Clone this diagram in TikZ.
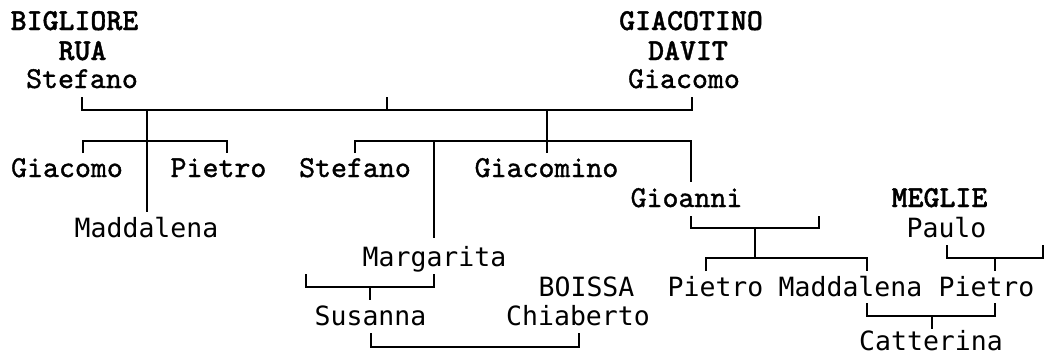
\documentclass[tikz,border=0pt]{standalone}
\usepackage{fontspec}
\newfontfamily\sansmono{DejaVu Sans Mono}
\newfontfamily\sermono{lmmono10-regular.otf}[FakeBold=1.2]
\newfontfamily\serbold{lmmonolt10-bold.otf}[FakeBold=1.2]
\begin{document}
\begin{tikzpicture}[x=1pt,y=-1pt,
  sn/.style={font=\sansmono\fontsize{26.5}{30}\selectfont, anchor=base, inner sep=0pt},
  sr/.style={font=\sermono\fontsize{30.4}{34}\selectfont, anchor=base, inner sep=0pt},
  sb/.style={font=\serbold\fontsize{30.4}{34}\selectfont, anchor=base, inner sep=0pt},
  ln/.style={draw=black, line width=2pt}]
\useasboundingbox (0,0) rectangle (1044,356);
% names
\node[sb] (bigl) at (74.5,30) {BIGLIORE};
\node[sb] (rua) at (82.5,60) {RUA};
\node[sr] (stef0) at (82,88) {Stefano};
\node[sb] (giacot) at (691,30) {GIACOTINO};
\node[sb] (davit) at (688,60) {DAVIT};
\node[sr] (giac0) at (684,88) {Giacomo};
\node[sr] (giac1) at (67,177) {Giacomo};
\node[sr] (piet1) at (218.5,177) {Pietro};
\node[sr] (stef1) at (355,177) {Stefano};
\node[sr] (giacm) at (546.5,177) {Giacomino};
\node[sr] (gioa) at (686.5,207) {Gioanni};
\node[sb] (meglie) at (939.5,207) {MEGLIE};
\node[sn] (madd1) at (146.5,237) {Maddalena};
\node[sn] (paulo) at (946.5,237) {Paulo};
\node[sn] (marg) at (434.5,266) {Margarita};
\node[sn] (boissa) at (586.5,296) {BOISSA};
\node[sn] (piet2) at (715.5,296) {Pietro};
\node[sn] (madd2) at (850.5,296) {Maddalena};
\node[sn] (piet3) at (986.5,296) {Pietro};
\node[sn] (susa) at (370.5,325) {Susanna};
\node[sn] (chia) at (578,325) {Chiaberto};
\node[sn, text depth=0pt] (catt) at (931,350.5) {Catterina};
% main couple bracket
\coordinate (m1) at (82,97);  \coordinate (m2) at (82,110);
\coordinate (m3) at (387,97); \coordinate (m4) at (387,110);
\coordinate (m5) at (692,97); \coordinate (m6) at (692,110);
\draw[ln] (m1) -- (m2) -- (m6) -- (m5);
\draw[ln] (m3) -- (m4);
% left children
\coordinate (a0) at (147,110); \coordinate (a1) at (147,212);
\draw[ln] (a0) -- (a1);
\coordinate (l1) at (83,153);  \coordinate (l2) at (83,141);
\coordinate (l3) at (227,141); \coordinate (l4) at (227,153);
\draw[ln] (l1) -- (l2) -- (l3) -- (l4);
% right children
\coordinate (b0) at (547,110); \coordinate (b1) at (547,153);
\draw[ln] (b0) -- (b1);
\coordinate (r1) at (355,153); \coordinate (r2) at (355,141);
\coordinate (r3) at (691,141); \coordinate (r4) at (691,182);
\draw[ln] (r1) -- (r2) -- (r3) -- (r4);
\coordinate (c0) at (434,141); \coordinate (c1) at (434,238);
\draw[ln] (c0) -- (c1);
% Gioanni couple
\coordinate (g1) at (691,216); \coordinate (g2) at (691,228);
\coordinate (g3) at (819,228); \coordinate (g4) at (819,216);
\draw[ln] (g1) -- (g2) -- (g3) -- (g4);
\coordinate (g5) at (755,228); \coordinate (g6) at (755,258);
\draw[ln] (g5) -- (g6);
\coordinate (k1) at (706,271); \coordinate (k2) at (706,258);
\coordinate (k3) at (867,258); \coordinate (k4) at (867,271);
\draw[ln] (k1) -- (k2) -- (k3) -- (k4);
% Paulo couple
\coordinate (p1) at (947,245);  \coordinate (p2) at (947,258);
\coordinate (p3) at (1043,258); \coordinate (p4) at (1043,245);
\draw[ln] (p1) -- (p2) -- (p3) -- (p4);
\coordinate (p5) at (995,258); \coordinate (p6) at (995,271);
\draw[ln] (p5) -- (p6);
% Margarita couple
\coordinate (q1) at (306,274); \coordinate (q2) at (306,287);
\coordinate (q3) at (434,287); \coordinate (q4) at (434,274);
\draw[ln] (q1) -- (q2) -- (q3) -- (q4);
\coordinate (q5) at (370,287); \coordinate (q6) at (370,300);
\draw[ln] (q5) -- (q6);
% Susanna - Chiaberto
\coordinate (s1) at (371,333); \coordinate (s2) at (371,347);
\coordinate (s3) at (579,347); \coordinate (s4) at (579,333);
\draw[ln] (s1) -- (s2) -- (s3) -- (s4);
% Maddalena - Pietro
\coordinate (t1) at (867,303); \coordinate (t2) at (867,316);
\coordinate (t3) at (995,316); \coordinate (t4) at (995,303);
\draw[ln] (t1) -- (t2) -- (t3) -- (t4);
\coordinate (t5) at (932,316); \coordinate (t6) at (932,329);
\draw[ln] (t5) -- (t6);
\end{tikzpicture}
\end{document}
